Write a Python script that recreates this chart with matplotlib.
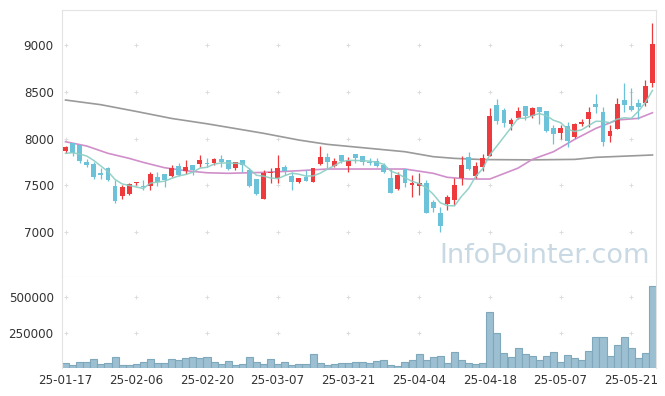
import numpy as np
import pandas as pd
import matplotlib
matplotlib.use("Agg")
import matplotlib.pyplot as plt

# daily candles (won)
opens = [7870, 7949, 7930, 7752, 7727, 7634, 7681, 7492, 7385, 7406,
         7520, 7492, 7492, 7591, 7620, 7602, 7706, 7652, 7717, 7727,
         7741, 7735, 7781, 7770, 7681, 7770, 7663, 7567, 7350, 7628,
         7574, 7692, 7602, 7538, 7585, 7538, 7724, 7799, 7709, 7824,
         7709, 7834, 7813, 7752, 7763, 7717, 7581, 7460, 7670, 7499,
         7492, 7520, 7324, 7200, 7300, 7342, 7574, 7806, 7602, 7698,
         7813, 8358, 8305, 8155, 8216, 8348, 8244, 8340, 8294, 8116,
         8055, 8134, 8020, 8155, 8209, 8369, 8280, 8030, 8102, 8412,
         8348, 8383, 8383, 8590]
highs = [7923, 7955, 7930, 7777, 7745, 7681, 7692, 7556, 7503, 7520,
         7540, 7556, 7638, 7645, 7620, 7717, 7735, 7770, 7717, 7824,
         7788, 7790, 7824, 7770, 7752, 7770, 7681, 7567, 7660, 7681,
         7824, 7717, 7645, 7574, 7663, 7688, 7920, 7842, 7788, 7824,
         7806, 7834, 7813, 7788, 7788, 7735, 7670, 7638, 7670, 7610,
         7628, 7556, 7342, 7271, 7396, 7574, 7813, 7859, 7752, 7834,
         8323, 8422, 8323, 8216, 8340, 8348, 8340, 8340, 8294, 8144,
         8144, 8180, 8170, 8209, 8334, 8476, 8334, 8144, 8430, 8590,
         8537, 8419, 8626, 9232]
lows = [7845, 7813, 7735, 7692, 7564, 7564, 7545, 7313, 7350, 7395,
        7503, 7450, 7450, 7495, 7485, 7591, 7602, 7617, 7610, 7698,
        7692, 7717, 7698, 7663, 7663, 7645, 7485, 7395, 7350, 7520,
        7520, 7610, 7450, 7520, 7545, 7538, 7717, 7681, 7698, 7735,
        7645, 7735, 7717, 7717, 7700, 7628, 7413, 7450, 7485, 7378,
        7395, 7207, 7217, 7003, 7235, 7289, 7503, 7663, 7574, 7656,
        7813, 8155, 8120, 8091, 8210, 8198, 8216, 8155, 8073, 7941,
        7991, 7906, 8002, 8134, 8126, 8276, 7923, 7966, 8102, 8287,
        8297, 8209, 8348, 8548]
closes = [7912, 7848, 7759, 7717, 7591, 7613, 7556, 7335, 7478, 7510,
          7530, 7478, 7617, 7538, 7556, 7681, 7610, 7692, 7663, 7770,
          7727, 7781, 7752, 7670, 7745, 7717, 7495, 7406, 7628, 7645,
          7681, 7656, 7538, 7574, 7545, 7688, 7799, 7752, 7763, 7763,
          7759, 7788, 7745, 7735, 7709, 7645, 7420, 7610, 7520, 7520,
          7520, 7207, 7253, 7064, 7371, 7503, 7717, 7674, 7709, 7788,
          8241, 8190, 8162, 8198, 8294, 8244, 8323, 8280, 8084, 8048,
          8116, 7976, 8152, 8177, 8280, 8340, 7966, 8080, 8369, 8358,
          8305, 8340, 8561, 9011]
volumes = [33, 21, 40, 40, 61, 28, 33, 75, 19, 19,
           28, 40, 61, 33, 33, 66, 54, 68, 75, 68,
           75, 40, 28, 47, 19, 28, 75, 44, 30, 65,
           30, 44, 18, 30, 30, 100, 37, 23, 30, 37,
           37, 44, 44, 37, 51, 58, 23, 15, 44, 58,
           100, 58, 79, 86, 37, 114, 60, 37, 30, 37,
           396, 248, 107, 79, 142, 100, 86, 58, 86, 114,
           44, 93, 72, 58, 121, 220, 220, 86, 163, 220,
           142, 72, 107, 579]  # thousands of shares

# first few MA5 points need days before the window
ma5_head = [7842, 7848, 7834, 7813]
# 20 day and long average, read at some candles
ma20_idx = [0, 3, 6, 9, 11, 14, 17, 20, 23, 28, 33, 37, 43, 48, 52, 54, 57,
            60, 64, 66, 69, 72, 75, 78, 81, 83]
ma20_val = [7966, 7920, 7842, 7788, 7745, 7688, 7656, 7634, 7628, 7638, 7656,
            7674, 7674, 7674, 7628, 7585, 7567, 7567, 7684, 7777, 7859, 7991,
            8109, 8198, 8216, 8276]
malong_idx = [0, 5, 10, 15, 20, 23, 28, 33, 37, 43, 48, 52, 55, 59, 66, 72, 75, 83]
malong_val = [8412, 8362, 8290, 8215, 8158, 8120, 8056, 7984, 7938, 7895, 7859,
              7806, 7788, 7775, 7772, 7777, 7799, 7824]

tick_idx = [0, 10, 20, 30, 40, 50, 60, 70, 80]
tick_lbl = ["25-01-17", "25-02-06", "25-02-20", "25-03-07", "25-03-21",
            "25-04-04", "25-04-18", "25-05-07", "25-05-21"]
price_ticks = [7000, 7500, 8000, 8500, 9000]
vol_ticks = [250000, 500000]

UP = "#ee3a3d"
DOWN = "#6cc2d8"
GRID = "#dcdcdc"
EDGE = "#e3e3e3"

df = pd.DataFrame({"o": opens, "h": highs, "l": lows, "c": closes,
                   "v": np.array(volumes) * 1000})
n = len(df)
x = np.arange(n)
ma5 = df["c"].rolling(5).mean().to_numpy()
ma5[:4] = ma5_head

fig = plt.figure(figsize=(6.65, 3.96), dpi=100)
W, H = 665, 396
axp = fig.add_axes([62 / W, 1 - 277 / H, 594 / W, 267 / H])
axv = fig.add_axes([62 / W, 1 - 368 / H, 594 / W, 91 / H], sharex=axp)

# little + marks instead of grid lines
for t in tick_idx:
    axp.scatter([t] * 6, [6500] + price_ticks, marker="+", s=12, c=GRID,
                linewidths=0.7, zorder=0, clip_on=False)
    axv.scatter([t] * 2, vol_ticks, marker="+", s=12, c=GRID,
                linewidths=0.7, zorder=0)

# candles
up = df["c"] >= df["o"]
colors = np.where(up, UP, DOWN)
axp.vlines(x, df["l"], df["h"], colors=colors, linewidth=0.9, zorder=2)
body_lo = np.minimum(df["o"], df["c"])
body_h = np.maximum(np.abs(df["c"] - df["o"]), 8)
axp.bar(x, body_h, bottom=body_lo, width=0.68, color=colors, zorder=3,
        linewidth=0)

# moving averages
axp.plot(malong_idx, malong_val, color="#9a9a9a", lw=1.2, zorder=1)
axp.plot(ma20_idx, ma20_val, color="#d08fca", lw=1.2, zorder=1)
axp.plot(x, ma5, color="#8acdc3", lw=1.1, zorder=4, alpha=0.9)

axp.set_xlim(-0.5, n - 0.5)
axp.set_ylim(6519, 9375)
axp.set_yticks(price_ticks)
axp.tick_params(axis="x", which="both", bottom=False, labelbottom=False)

axp.text(0.99, 0.08, "InfoPointer.com", transform=axp.transAxes,
         ha="right", va="center", fontsize=19.5, color="#c9d9e4", zorder=0)

# volume
axv.bar(x, df["v"], width=1.0, color="#9cc0d2", edgecolor="#7fa8bd",
        linewidth=0.8, zorder=2)
axv.set_ylim(0, 645000)
axv.set_yticks(vol_ticks)
axv.set_yticklabels([str(v) for v in vol_ticks])
axv.set_xticks(tick_idx)
axv.set_xticklabels(tick_lbl)

for ax in (axp, axv):
    ax.tick_params(length=0, labelsize=8.6, colors="#333333", pad=6)
    for s in ax.spines.values():
        s.set_color(EDGE)
        s.set_linewidth(0.8)
axv.spines["bottom"].set_visible(False)
axv.spines["top"].set_visible(False)
axv.tick_params(axis="x", pad=4)

fig.savefig("out.png", dpi=100)
